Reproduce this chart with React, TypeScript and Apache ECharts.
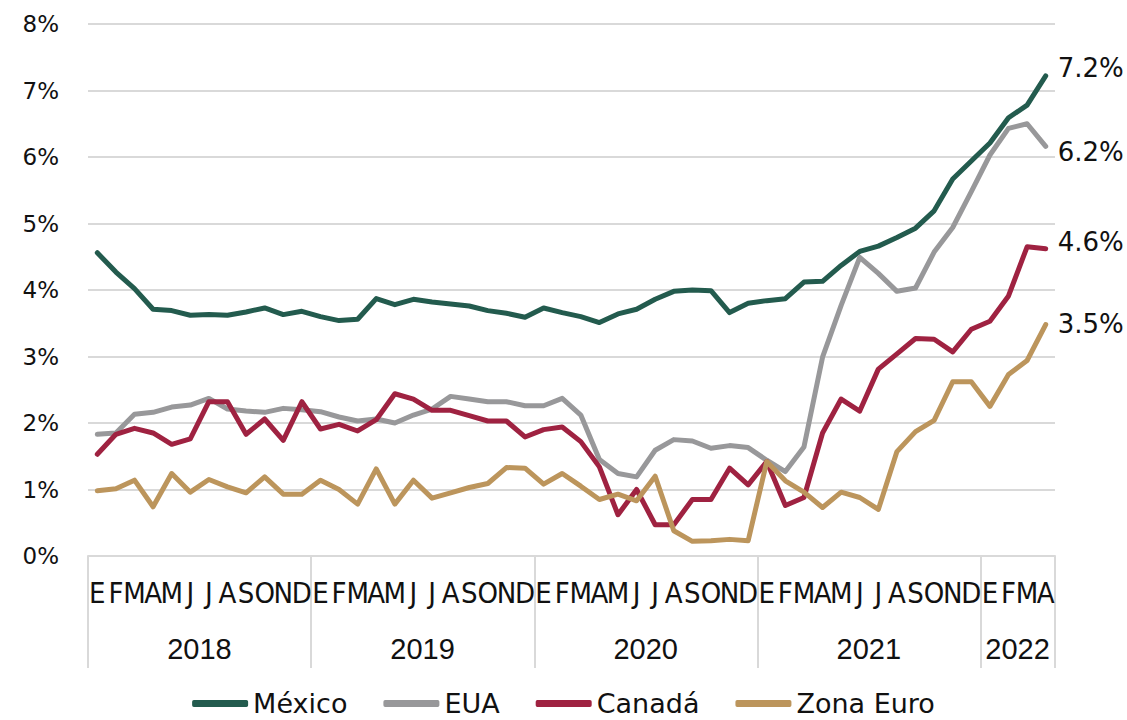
import React, { useEffect, useRef } from "react";
import * as echarts from "echarts";

const monthLetters = ["E", "F", "M", "A", "M", "J", "J", "A", "S", "O", "N", "D"];
const yearLabels = ["2018", "2019", "2020", "2021", "2022"];
const monthsInLastYear = 4;

const mexico = [
  4.56, 4.27, 4.02, 3.71, 3.69, 3.62, 3.63, 3.62, 3.67, 3.73, 3.63, 3.68,
  3.60, 3.54, 3.56, 3.87, 3.78, 3.86, 3.82, 3.79, 3.76, 3.69, 3.65, 3.59,
  3.73, 3.66, 3.60, 3.51, 3.64, 3.71, 3.86, 3.98, 4.00, 3.99, 3.66, 3.80,
  3.84, 3.87, 4.12, 4.13, 4.37, 4.58, 4.66, 4.79, 4.93, 5.19, 5.67, 5.94,
  6.21, 6.59, 6.78, 7.22,
];
const eua = [
  1.83, 1.85, 2.13, 2.16, 2.24, 2.27, 2.37, 2.21, 2.18, 2.16, 2.22, 2.20,
  2.17, 2.09, 2.03, 2.06, 2.00, 2.12, 2.21, 2.40, 2.36, 2.32, 2.32, 2.26,
  2.26, 2.37, 2.12, 1.45, 1.24, 1.19, 1.59, 1.75, 1.73, 1.62, 1.66, 1.63,
  1.44, 1.27, 1.64, 2.99, 3.77, 4.49, 4.25, 3.98, 4.03, 4.57, 4.94, 5.48,
  6.03, 6.43, 6.50, 6.16,
];
const canada = [
  1.53, 1.83, 1.92, 1.85, 1.68, 1.76, 2.32, 2.32, 1.83, 2.06, 1.74, 2.32,
  1.91, 1.98, 1.88, 2.05, 2.44, 2.36, 2.19, 2.19, 2.11, 2.03, 2.03, 1.79,
  1.90, 1.94, 1.72, 1.34, 0.62, 1.00, 0.47, 0.47, 0.85, 0.85, 1.32, 1.07,
  1.42, 0.76, 0.88, 1.85, 2.36, 2.18, 2.81, 3.04, 3.27, 3.26, 3.07, 3.41,
  3.53, 3.91, 4.65, 4.62,
];
const zonaEuro = [
  0.98, 1.01, 1.14, 0.74, 1.24, 0.96, 1.15, 1.04, 0.95, 1.19, 0.93, 0.93,
  1.14, 1.00, 0.78, 1.31, 0.78, 1.14, 0.87, 0.95, 1.03, 1.09, 1.33, 1.32,
  1.08, 1.24, 1.05, 0.85, 0.93, 0.83, 1.20, 0.38, 0.22, 0.23, 0.25, 0.23,
  1.42, 1.13, 0.96, 0.73, 0.96, 0.88, 0.70, 1.57, 1.87, 2.04, 2.62, 2.62,
  2.25, 2.73, 2.94, 3.48,
];

const seriesNames = ["México", "EUA", "Canadá", "Zona Euro"];
const seriesColors = ["#235B4E", "#98989A", "#9F2241", "#BC955C"];
const endLabelDy = [-8, 6, -7, -1];

// categories: one per month
const categories: string[] = [];
const monthOfIndex: string[] = [];
yearLabels.forEach((y, yi) => {
  const n = yi === yearLabels.length - 1 ? monthsInLastYear : 12;
  for (let m = 0; m < n; m++) {
    categories.push(y + "-" + (m + 1));
    monthOfIndex.push(monthLetters[m]);
  }
});
// index where each year's label sits (middle of the year's span, shifted half a band left)
const yearLabelIdx: Record<number, string> = {};
{
  let start = 0;
  yearLabels.forEach((y, yi) => {
    const n = yi === yearLabels.length - 1 ? monthsInLastYear : 12;
    yearLabelIdx[start + n / 2] = y;
    start += n;
  });
}

const TXT = "#111111";
const GRID = "#d9d9d9";

export default function App() {
  const ref = useRef<HTMLDivElement>(null);
  useEffect(() => {
    if (!ref.current) return;
    const chart = echarts.init(ref.current, null, { renderer: "svg" });
    const seriesData = [mexico, eua, canada, zonaEuro];
    chart.setOption({
      animation: false,
      backgroundColor: "#ffffff",
      grid: { left: 88, right: 72, top: 24, bottom: 164, containLabel: false },
      legend: {
        show: true,
        left: "center",
        top: 690,
        padding: 0,
        icon: "roundRect",
        itemWidth: 56,
        itemHeight: 7,
        itemGap: 36,
        textStyle: { fontSize: 27, lineHeight: 26, fontFamily: "DejaVu Sans", color: TXT },
        data: seriesNames,
      },
      xAxis: [
        {
          type: "category",
          data: categories,
          boundaryGap: true,
          position: "bottom",
          axisLine: { show: true, lineStyle: { color: GRID, width: 2 } },
          axisTick: { show: false },
          axisLabel: {
            interval: 0,
            margin: 22,
            fontSize: 29,
            fontFamily: "Liberation Sans Narrow, DejaVu Sans Condensed, sans-serif",
            color: TXT,
            formatter: (_v: string, i: number) => monthOfIndex[i],
          },
          splitLine: { show: false },
        },
        {
          type: "category",
          data: categories,
          boundaryGap: true,
          position: "bottom",
          offset: 0,
          axisLine: { show: false },
          axisTick: {
            show: true,
            interval: (i: number) => i % 12 === 0,
            length: 112,
            lineStyle: { color: GRID, width: 2 },
          },
          axisLabel: {
            interval: (i: number) => yearLabelIdx[i] !== undefined,
            margin: 78,
            color: TXT,
            formatter: (_v: string, i: number) => "{y|" + (yearLabelIdx[i] || "") + "}",
            rich: {
              y: {
                fontSize: 29,
                fontFamily: "Liberation Sans, sans-serif",
                color: TXT,
                padding: [0, 19, 0, 0],
              },
            },
          },
          splitLine: { show: false },
        },
      ],
      yAxis: {
        type: "value",
        min: 0,
        max: 8,
        interval: 1,
        axisLine: { show: false },
        axisTick: { show: false },
        axisLabel: {
          formatter: "{value}%",
          margin: 29,
          fontSize: 23,
          fontFamily: "DejaVu Sans",
          color: TXT,
        },
        splitLine: { show: true, lineStyle: { color: GRID, width: 2 } },
      },
      series: seriesNames.map((name, k) => ({
        name,
        type: "line",
        xAxisIndex: 0,
        data: seriesData[k],
        symbol: "none",
        showSymbol: false,
        color: seriesColors[k],
        lineStyle: { width: 5, color: seriesColors[k], cap: "round", join: "round" },
        itemStyle: { color: seriesColors[k] },
        endLabel: {
          show: true,
          distance: 12,
          offset: [0, endLabelDy[k]],
          fontSize: 26,
          fontFamily: "DejaVu Sans",
          color: TXT,
          formatter: (p: any) => Number(p.value).toFixed(1) + "%",
        },
        emphasis: { disabled: true },
      })),
    });
    return () => chart.dispose();
  }, []);
  return (
    <div
      ref={ref}
      style={{ position: "fixed", left: 0, top: 0, width: 1127, height: 720, background: "#fff" }}
    />
  );
}
